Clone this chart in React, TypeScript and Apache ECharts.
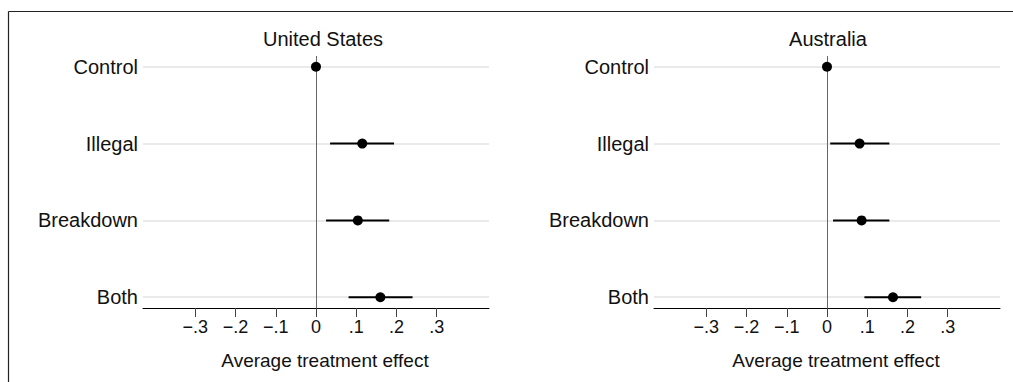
import React, { useEffect, useRef } from "react";
import * as echarts from "echarts";

const categories = ["Control", "Illegal", "Breakdown", "Both"];
const panels = ["United States", "Australia"];
const usEst = [0, 0.115, 0.104, 0.16];
const usLo = [0, 0.035, 0.025, 0.081];
const usHi = [0, 0.194, 0.182, 0.24];
const auEst = [0, 0.081, 0.086, 0.164];
const auLo = [0, 0.008, 0.015, 0.093];
const auHi = [0, 0.155, 0.155, 0.234];
const xTicks = [-0.3, -0.2, -0.1, 0, 0.1, 0.2, 0.3];
const xTitle = "Average treatment effect";

const FONT = "'Liberation Sans', Arial, Helvetica, sans-serif";
const TEXT = "#111";

const pos = (i: number) => categories.length - i;

const fmt = (v: number) => {
  if (Math.abs(v) < 1e-9) return "0";
  const d = Math.round(Math.abs(v) * 10);
  return (v < 0 ? "\u2212" : "") + "." + d;
};

export default function App() {
  const ref = useRef<HTMLDivElement>(null);
  useEffect(() => {
    if (!ref.current) return;
    const chart = echarts.init(ref.current, undefined, { renderer: "svg" });
    const est = [usEst, auEst];
    const lo = [usLo, auLo];
    const hi = [usHi, auHi];
    const grids = [
      { left: 143, width: 346, top: 56, height: 252 },
      { left: 654, width: 346, top: 56, height: 252 },
    ];
    const titleX = [323, 828];
    const axisTitleX = [325, 836];
    const series: any[] = [];
    panels.forEach((_, p) => {
      series.push({
        type: "line",
        xAxisIndex: p,
        yAxisIndex: p,
        data: [],
        silent: true,
        z: 1,
        markLine: {
          silent: true,
          z: 1,
          symbol: ["none", "none"],
          label: { show: false },
          lineStyle: { color: "#e3e3e3", width: 1.5, type: "solid" },
          emphasis: { disabled: true },
          data: [
            ...categories.map((_, i) => ({ yAxis: pos(i) })),
            { xAxis: 0, lineStyle: { color: "#666", width: 1, type: "solid" } },
          ],
        },
      });
      series.push({
        type: "custom",
        xAxisIndex: p,
        yAxisIndex: p,
        silent: true,
        z: 5,
        encode: { x: [0, 1], y: 2 },
        data: categories.map((_, i) => [lo[p][i], hi[p][i], pos(i)]),
        renderItem: (params: any, api: any) => {
          const a = api.coord([api.value(0), api.value(2)]);
          const b = api.coord([api.value(1), api.value(2)]);
          return {
            type: "line",
            shape: { x1: a[0], y1: a[1], x2: b[0], y2: b[1] },
            style: { stroke: "#000", lineWidth: 2 },
          };
        },
      });
      series.push({
        type: "scatter",
        xAxisIndex: p,
        yAxisIndex: p,
        silent: true,
        z: 6,
        symbol: "circle",
        symbolSize: 10,
        itemStyle: { color: "#000", opacity: 1 },
        data: categories.map((_, i) => [est[p][i], pos(i)]),
      });
    });

    chart.setOption({
      animation: false,
      textStyle: { fontFamily: FONT },
      grid: grids,
      xAxis: panels.map((_, p) => ({
        gridIndex: p,
        type: "value",
        min: -0.43,
        max: 0.43,
        splitLine: { show: false },
        axisLine: { show: true, onZero: false, lineStyle: { color: "#000", width: 1 } },
        axisTick: { show: true, length: 9, customValues: xTicks, lineStyle: { color: "#444", width: 1 } },
        axisLabel: {
          customValues: xTicks,
          formatter: fmt,
          fontSize: 18,
          color: TEXT,
          margin: 10,
          fontFamily: FONT,
        },
      })),
      yAxis: panels.map((_, p) => ({
        gridIndex: p,
        type: "value",
        min: 0.86,
        max: 4.14,
        axisLine: { show: false },
        axisTick: { show: false },
        splitLine: { show: false },
        axisLabel: {
          customValues: categories.map((_, i) => pos(i)),
          formatter: (v: number) => categories[categories.length - Math.round(v)],
          fontSize: 20,
          color: TEXT,
          margin: 5,
          fontFamily: FONT,
        },
      })),
      graphic: [
        {
          type: "line",
          silent: true,
          shape: { x1: 8.5, y1: 11.5, x2: 1013, y2: 11.5 },
          style: { stroke: "#222", lineWidth: 1.2 },
        },
        {
          type: "line",
          silent: true,
          shape: { x1: 8.5, y1: 11.5, x2: 8.5, y2: 382 },
          style: { stroke: "#222", lineWidth: 1.2 },
        },
        ...panels.map((t, p) => ({
          type: "text",
          silent: true,
          x: titleX[p],
          y: 39,
          style: {
            text: t,
            fontSize: 20,
            fontFamily: FONT,
            fill: TEXT,
            align: "center",
            verticalAlign: "middle",
          },
        })),
        ...panels.map((_, p) => ({
          type: "text",
          silent: true,
          x: axisTitleX[p],
          y: 360,
          style: {
            text: xTitle,
            fontSize: 19,
            fontFamily: FONT,
            fill: TEXT,
            align: "center",
            verticalAlign: "middle",
          },
        })),
      ],
      series,
    });
    return () => chart.dispose();
  }, []);
  return (
    <div
      ref={ref}
      style={{ position: "fixed", left: 0, top: 0, width: 1013, height: 382, background: "#fff" }}
    />
  );
}
